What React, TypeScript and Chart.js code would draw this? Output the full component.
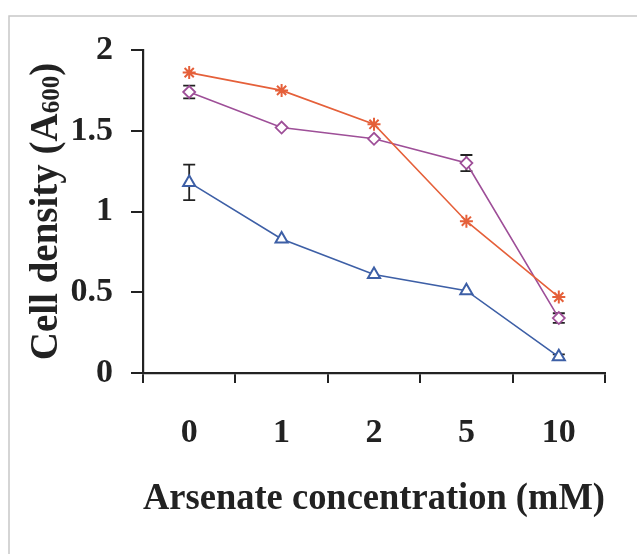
import { useEffect, useRef } from 'react';
import { Chart, registerables } from 'chart.js';

Chart.register(...registerables);

const categories = ['0', '1', '2', '5', '10'];
const seriesRed = [1.86, 1.75, 1.54, 0.94, 0.47];
const seriesPurple = [1.74, 1.52, 1.45, 1.3, 0.34];
const errPurple = [0.04, 0, 0, 0.05, 0.03];
const seriesBlue = [1.18, 0.83, 0.61, 0.51, 0.1];
const errBlue = [0.11, 0, 0, 0, 0.015];
const yMin = 0;
const yMax = 2;
const yStep = 0.5;
const xTitle = 'Arsenate concentration (mM)';
const yTitleMain = 'Cell density (A';
const yTitleSub = '600';
const yTitleEnd = ')';

const FONT = "'Liberation Serif', 'Times New Roman', serif";
const INK = '#222';

const framePlugin = {
  id: 'frame',
  beforeDraw(chart: any) {
    const { ctx, width, height } = chart;
    ctx.save();
    ctx.fillStyle = '#fff';
    ctx.fillRect(0, 0, width, height);
    ctx.strokeStyle = '#c8c8c8';
    ctx.lineWidth = 1.5;
    ctx.beginPath();
    ctx.moveTo(9, height);
    ctx.lineTo(9, 16);
    ctx.lineTo(width, 16);
    ctx.stroke();
    ctx.restore();
  },
};

const errorBarPlugin = {
  id: 'errorBars',
  beforeDatasetsDraw(chart: any) {
    const { ctx } = chart;
    const yScale = chart.scales.y;
    chart.data.datasets.forEach((ds: any, i: number) => {
      const errs: number[] | undefined = ds.errors;
      if (!errs) return;
      const meta = chart.getDatasetMeta(i);
      meta.data.forEach((pt: any, j: number) => {
        const e = errs[j];
        if (!e) return;
        const v = ds.data[j] as number;
        const yTop = yScale.getPixelForValue(v + e);
        const yBot = yScale.getPixelForValue(v - e);
        const x = pt.x;
        ctx.save();
        ctx.strokeStyle = INK;
        ctx.lineWidth = 1.8;
        ctx.beginPath();
        ctx.moveTo(x, yTop);
        ctx.lineTo(x, yBot);
        ctx.moveTo(x - 6, yTop);
        ctx.lineTo(x + 6, yTop);
        ctx.moveTo(x - 6, yBot);
        ctx.lineTo(x + 6, yBot);
        ctx.stroke();
        ctx.restore();
      });
    });
  },
};

const yTitlePlugin = {
  id: 'yTitle',
  afterDraw(chart: any) {
    const { ctx, chartArea } = chart;
    const mainFont = `bold 39px ${FONT}`;
    const subFont = `bold 25px ${FONT}`;
    ctx.save();
    ctx.font = mainFont;
    const w1 = ctx.measureText(yTitleMain).width;
    const w3 = ctx.measureText(yTitleEnd).width;
    ctx.font = subFont;
    const w2 = ctx.measureText(yTitleSub).width;
    const total = w1 + w2 + w3;
    const cy = (chartArea.top + chartArea.bottom) / 2;
    ctx.translate(57, cy);
    ctx.rotate(-Math.PI / 2);
    ctx.fillStyle = INK;
    ctx.textBaseline = 'alphabetic';
    ctx.textAlign = 'left';
    let u = -total / 2;
    ctx.font = mainFont;
    ctx.fillText(yTitleMain, u, 0);
    u += w1;
    ctx.font = subFont;
    ctx.fillText(yTitleSub, u, 2);
    u += w2;
    ctx.font = mainFont;
    ctx.fillText(yTitleEnd, u, 0);
    ctx.restore();
  },
};

export default function App() {
  const ref = useRef<HTMLCanvasElement>(null);

  useEffect(() => {
    document.body.style.margin = '0';
    const canvas = ref.current;
    if (!canvas) return;
    const chart = new Chart(canvas, {
      type: 'line',
      data: {
        labels: categories,
        datasets: [
          {
            label: 'Series 1',
            data: seriesRed,
            borderColor: '#e5603a',
            backgroundColor: '#e5603a',
            borderWidth: 1.6,
            pointStyle: 'star',
            pointRadius: 6.5,
            pointBorderWidth: 2,
            pointBorderColor: '#e5603a',
          },
          {
            label: 'Series 2',
            data: seriesPurple,
            errors: errPurple,
            borderColor: '#9e4f98',
            backgroundColor: '#ffffff',
            borderWidth: 1.6,
            pointStyle: 'rectRot',
            pointRadius: 6,
            pointBorderWidth: 1.8,
            pointBorderColor: '#9e4f98',
            pointBackgroundColor: '#ffffff',
          } as any,
          {
            label: 'Series 3',
            data: seriesBlue,
            errors: errBlue,
            borderColor: '#3d5fa6',
            backgroundColor: '#ffffff',
            borderWidth: 1.6,
            pointStyle: 'triangle',
            pointRadius: 7,
            pointBorderWidth: 2,
            pointBorderColor: '#3d5fa6',
            pointBackgroundColor: '#ffffff',
          } as any,
        ],
      },
      options: {
        responsive: false,
        animation: false,
        layout: { padding: { left: 0, top: 50, right: 32, bottom: 0 } },
        plugins: {
          legend: { display: false },
          tooltip: { enabled: false },
        },
        elements: { line: { tension: 0 } },
        scales: {
          x: {
            type: 'category',
            offset: true,
            grid: {
              display: true,
              offset: true,
              drawOnChartArea: false,
              drawTicks: true,
              tickLength: 10,
              color: INK,
              lineWidth: 2,
            },
            border: { display: true, color: INK, width: 2.2 },
            ticks: {
              color: INK,
              padding: 30,
              font: { family: FONT, size: 34, weight: 'bold' },
              maxRotation: 0,
            },
            title: {
              display: true,
              text: xTitle,
              color: INK,
              font: { family: FONT, size: 37, weight: 'bold' },
              padding: { top: 0, bottom: 32 },
            },
            afterFit: (scale: any) => {
              scale.height = 181;
            },
          },
          y: {
            type: 'linear',
            min: yMin,
            max: yMax,
            grid: {
              display: true,
              drawOnChartArea: false,
              drawTicks: true,
              tickLength: 12,
              color: INK,
              lineWidth: 2,
            },
            border: { display: true, color: INK, width: 2.2 },
            ticks: {
              stepSize: yStep,
              color: INK,
              padding: 18,
              font: { family: FONT, size: 34, weight: 'bold' },
              callback: (value: any) => String(Number(value)),
            },
            afterFit: (scale: any) => {
              scale.width = 143;
            },
          },
        },
      },
      plugins: [framePlugin, errorBarPlugin, yTitlePlugin],
    });
    return () => chart.destroy();
  }, []);

  return (
    <div style={{ position: 'absolute', left: 0, top: 0, width: 637, height: 554 }}>
      <canvas ref={ref} width={637} height={554} />
    </div>
  );
}
